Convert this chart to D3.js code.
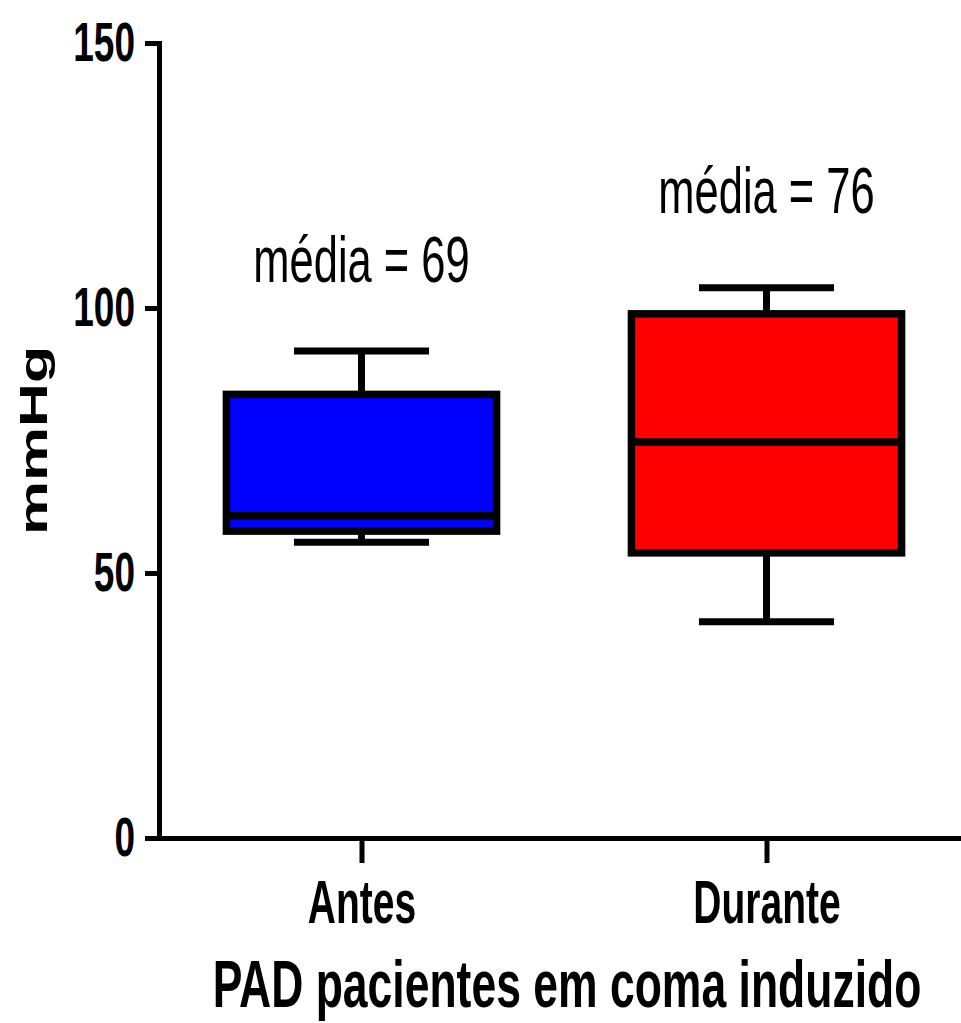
<!DOCTYPE html>
<html>
<head>
<meta charset="utf-8">
<script src="https://cdn.jsdelivr.net/npm/d3@7"></script>
<style>
  body { margin: 0; background: #fff; }
  svg { display: block; }
</style>
</head>
<body>
<div id="chart"></div>
<script>
// data
const groups = ['Antes', 'Durante'];
const boxColors = ['#0000ff', '#ff0000'];
const whiskerLow = [55.8, 40.8];
const q1 = [57.9, 53.8];
const medians = [60.8, 74.7];
const q3 = [83.7, 98.9];
const whiskerHigh = [91.9, 103.8];
const meanLabels = ['média = 69', 'média = 76'];
const meanLabelLevel = [105, 118];
const yTicks = [0, 50, 100, 150];

const W = 961, H = 1023;
const stretch = 1.5; // the original picture is stretched vertically
const font = '"Liberation Sans", Arial, sans-serif';

const svg = d3.select('#chart').append('svg')
    .attr('width', W)
    .attr('height', H);

const x = d3.scalePoint()
    .domain(groups)
    .range([159, 969])
    .padding(0.5);

const y = d3.scaleLinear()
    .domain([0, 150])
    .range([838, 43]);

const boxW = x.step() * 0.667;
const capW = boxW / 2;

// y axis
const yAxis = svg.append('g')
    .attr('transform', 'translate(159,0)')
    .call(d3.axisLeft(y).tickValues(yTicks).tickSize(14).tickSizeOuter(0));
yAxis.select('.domain').attr('stroke-width', 5).attr('stroke-linecap', 'square');
yAxis.selectAll('.tick line').attr('stroke-width', 5);
yAxis.selectAll('.tick text')
    .attr('x', -24)
    .attr('font-family', font)
    .attr('font-weight', 'bold')
    .attr('font-size', 37)
    .attr('fill', '#000')
    .attr('transform', `scale(1,${stretch})`);

// x axis
const xStretch = 1.58;
const xAxis = svg.append('g')
    .attr('transform', 'translate(0,838)')
    .call(d3.axisBottom(x).tickSize(25).tickSizeOuter(0));
xAxis.select('.domain').attr('stroke-width', 5).attr('stroke-linecap', 'square');
xAxis.selectAll('.tick line').attr('stroke-width', 5);
xAxis.selectAll('.tick text')
    .attr('y', 85 / xStretch)
    .attr('dy', 0)
    .attr('font-family', font)
    .attr('font-weight', 'bold')
    .attr('font-size', 39)
    .attr('fill', '#000')
    .attr('transform', `scale(1,${xStretch})`);

// boxes
const boxes = svg.selectAll('g.box')
    .data(groups)
    .enter().append('g')
    .attr('class', 'box');

boxes.append('line')
    .attr('x1', d => x(d)).attr('x2', d => x(d))
    .attr('y1', (d, i) => y(whiskerHigh[i]))
    .attr('y2', (d, i) => y(whiskerLow[i]))
    .attr('stroke', '#000').attr('stroke-width', 7);

boxes.append('line')
    .attr('x1', d => x(d) - capW / 2).attr('x2', d => x(d) + capW / 2)
    .attr('y1', (d, i) => y(whiskerHigh[i])).attr('y2', (d, i) => y(whiskerHigh[i]))
    .attr('stroke', '#000').attr('stroke-width', 7);

boxes.append('line')
    .attr('x1', d => x(d) - capW / 2).attr('x2', d => x(d) + capW / 2)
    .attr('y1', (d, i) => y(whiskerLow[i])).attr('y2', (d, i) => y(whiskerLow[i]))
    .attr('stroke', '#000').attr('stroke-width', 7);

boxes.append('rect')
    .attr('x', d => x(d) - boxW / 2)
    .attr('width', boxW)
    .attr('y', (d, i) => y(q3[i]))
    .attr('height', (d, i) => y(q1[i]) - y(q3[i]))
    .attr('fill', (d, i) => boxColors[i])
    .attr('stroke', '#000').attr('stroke-width', 7.5);

boxes.append('line')
    .attr('x1', d => x(d) - boxW / 2).attr('x2', d => x(d) + boxW / 2)
    .attr('y1', (d, i) => y(medians[i])).attr('y2', (d, i) => y(medians[i]))
    .attr('stroke', '#000').attr('stroke-width', 7.5);

// mean annotations
boxes.append('g')
    .attr('transform', (d, i) => `translate(${x(d)},${y(meanLabelLevel[i])}) scale(1,${stretch})`)
    .append('text')
    .attr('text-anchor', 'middle')
    .attr('font-family', font)
    .attr('font-size', 43.5)
    .text((d, i) => meanLabels[i]);

// axis titles
svg.append('g')
    .attr('transform', 'translate(567,1007) scale(1,1.5)')
    .append('text')
    .attr('text-anchor', 'middle')
    .attr('font-family', font)
    .attr('font-weight', 'bold')
    .attr('font-size', 44.5)
    .text('PAD pacientes em coma induzido');

svg.append('g')
    .attr('transform', `translate(47,${(y(0) + y(150)) / 2}) rotate(-90) scale(1.6,1)`)
    .append('text')
    .attr('text-anchor', 'middle')
    .attr('font-family', font)
    .attr('font-weight', 'bold')
    .attr('font-size', 38)
    .text('mmHg');
</script>
</body>
</html>
